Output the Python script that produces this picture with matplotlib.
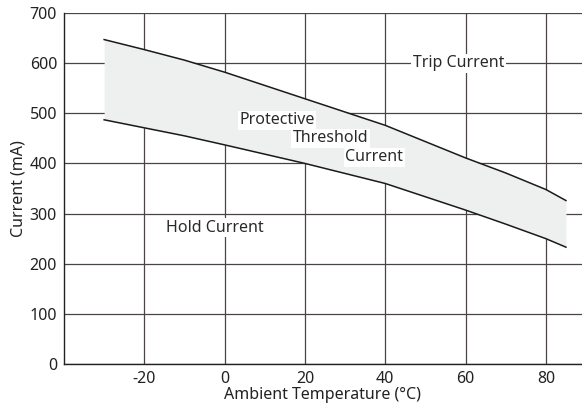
import numpy as np
import matplotlib
matplotlib.use("Agg")
import matplotlib.pyplot as plt

plt.rcParams['font.family'] = ['Noto Sans', 'DejaVu Sans']
plt.rcParams['font.size'] = 11.5
plt.rcParams['axes.unicode_minus'] = False

# Readings from the chart
temp = [-30, -20, -10, 0, 20, 40, 60, 70, 80, 85]
trip = [647, 627, 606, 582, 529, 476, 411, 381, 348, 326]
hold = [487, 471, 455, 437, 400, 360, 307, 279, 250, 233]

xticks = [-20, 0, 20, 40, 60, 80]
yticks = [0, 100, 200, 300, 400, 500, 600, 700]

fig = plt.figure(figsize=(5.82, 4.12), dpi=100)
ax = fig.add_axes([64/582, 48/412, 1 - 64/582, 351/412])

ax.fill_between(temp, hold, trip, color='#eeefef', lw=0, zorder=1)
ax.plot(temp, trip, color='#1a1a1a', lw=1.1, zorder=3)
ax.plot(temp, hold, color='#1a1a1a', lw=1.1, zorder=3)

ax.set_xlim(-40, 89)
ax.set_ylim(0, 700)
ax.set_xticks(xticks)
ax.set_yticks(yticks)
ax.grid(True, color='#4a4444', lw=0.9, zorder=0)
ax.set_axisbelow(True)
ax.tick_params(length=0, labelsize=11.5, colors='#222222', pad=5)

for s in ['top', 'right']:
    ax.spines[s].set_visible(False)
for s in ['left', 'bottom']:
    ax.spines[s].set_color('#222222')
    ax.spines[s].set_linewidth(1.0)

ax.set_xlabel('Ambient Temperature (°C)', fontsize=11.5, color='#222222', labelpad=0)
ax.set_ylabel('Current (mA)', fontsize=11.5, color='#222222', labelpad=2)

box = dict(facecolor='white', edgecolor='none', pad=1.2)
tc = '#2a2a2a'
ax.text(58.2, 600, 'Trip Current', ha='center', va='center', color=tc, fontsize=11.5, bbox=box, zorder=4)
ax.text(13, 486, 'Protective', ha='center', va='center', color=tc, fontsize=11.5, bbox=box, zorder=4)
ax.text(26.4, 450, 'Threshold', ha='center', va='center', color=tc, fontsize=11.5, bbox=box, zorder=4)
ax.text(37.3, 412, 'Current', ha='center', va='center', color=tc, fontsize=11.5, bbox=box, zorder=4)
ax.text(-2.5, 272, 'Hold Current', ha='center', va='center', color=tc, fontsize=11.5, bbox=box, zorder=4)

fig.savefig('out.png', dpi=100, facecolor='white')
